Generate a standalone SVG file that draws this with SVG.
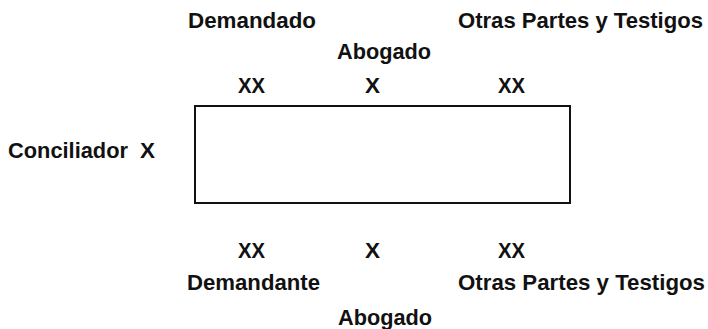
<svg xmlns="http://www.w3.org/2000/svg" width="708" height="329" viewBox="0 0 708 329">
<style>
text{font-family:"Liberation Sans",Arial,sans-serif;font-weight:bold;font-size:22px;fill:#111}
.box{fill:#fff;stroke:#111;stroke-width:2}
</style>
<rect width="708" height="329" fill="#fff"/>
<g id="mesa"><rect class="box" x="195" y="106" width="375" height="97"/></g>
<g id="demandado"><text x="188" y="28" textLength="128" lengthAdjust="spacingAndGlyphs">Demandado</text><text x="238" y="93" textLength="27" lengthAdjust="spacingAndGlyphs">XX</text></g>
<g id="otras-top"><text x="458" y="28" textLength="245" lengthAdjust="spacingAndGlyphs">Otras Partes y Testigos</text><text x="498" y="93" textLength="27" lengthAdjust="spacingAndGlyphs">XX</text></g>
<g id="abogado-top"><text x="337" y="59" textLength="94" lengthAdjust="spacingAndGlyphs">Abogado</text><text x="365" y="93" textLength="15" lengthAdjust="spacingAndGlyphs">X</text></g>
<g id="conciliador"><text x="8" y="158" textLength="120" lengthAdjust="spacingAndGlyphs">Conciliador</text><text x="140" y="158" textLength="15" lengthAdjust="spacingAndGlyphs">X</text></g>
<g id="demandante"><text x="238" y="258" textLength="27" lengthAdjust="spacingAndGlyphs">XX</text><text x="187" y="290" textLength="133" lengthAdjust="spacingAndGlyphs">Demandante</text></g>
<g id="abogado-bottom"><text x="365" y="258" textLength="15" lengthAdjust="spacingAndGlyphs">X</text><text x="338" y="325" textLength="94" lengthAdjust="spacingAndGlyphs">Abogado</text></g>
<g id="otras-bottom"><text x="498" y="258" textLength="27" lengthAdjust="spacingAndGlyphs">XX</text><text x="458" y="290" textLength="247" lengthAdjust="spacingAndGlyphs">Otras Partes y Testigos</text></g>
<g id="connectors"></g>
</svg>
